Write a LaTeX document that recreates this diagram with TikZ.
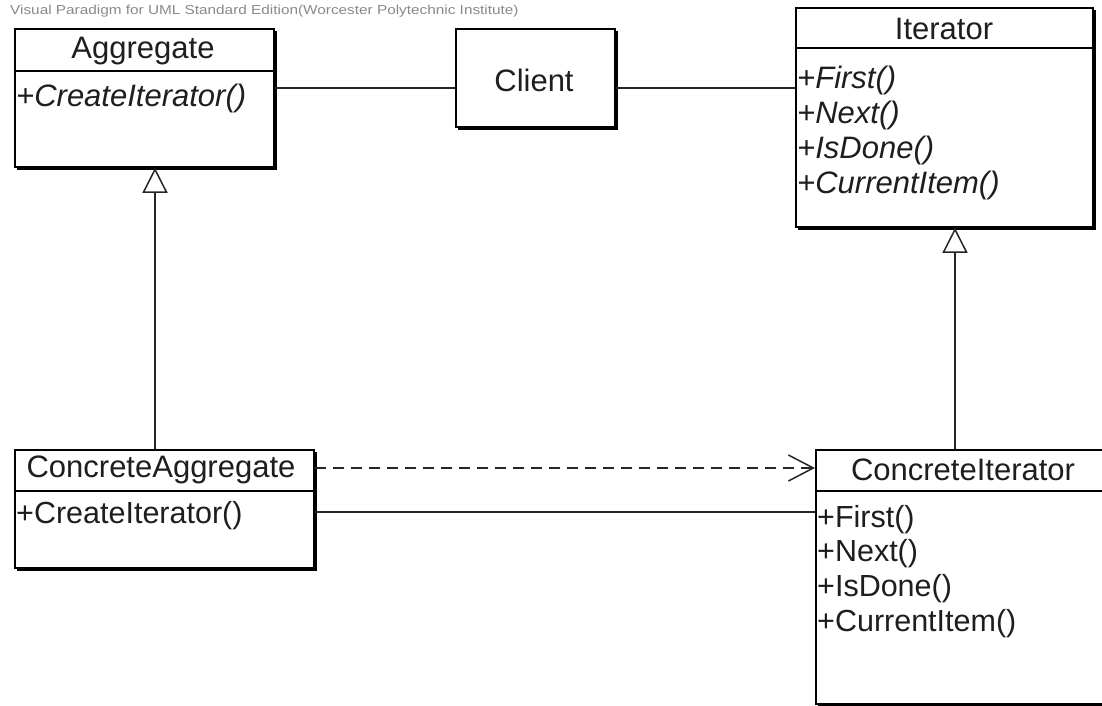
\documentclass[tikz,border=0pt]{standalone}
\usepackage{fontspec}
\setmainfont{Liberation Sans}
\usetikzlibrary{arrows.meta,calc}
\definecolor{txt}{HTML}{1E1E1E}
\definecolor{wm}{HTML}{8A8A8A}
\begin{document}
\begin{tikzpicture}[x=1pt,y=-1pt,
  box/.style={draw=black,line width=1.8pt,fill=white,inner sep=0pt,anchor=north west},
  shadowline/.style={draw=black,line width=2.4pt},
  title/.style={text=txt,inner sep=0pt,font=\fontsize{31}{35}\selectfont},
  meth/.style={text=txt,inner sep=0pt,anchor=west,font=\fontsize{30.5}{35}\selectfont},
  imeth/.style={meth,font=\fontsize{31}{35}\selectfont\itshape},
  conn/.style={draw=black!85,line width=1.5pt},
  gen/.style={conn,-{Triangle[open,length=25pt,width=25pt,line width=1.5pt]}},
  dep/.style={conn,dash pattern=on 11pt off 7pt,-{Straight Barb[length=25pt,width=26pt,line width=1.5pt]}},
  divider/.style={draw=black,line width=1.6pt}
]
\useasboundingbox (0,0) rectangle (1102,705);
\fill[white] (0,0) rectangle (1102,705);
\clip (0,0) rectangle (1102,705);

% watermark
\node[anchor=west,inner sep=0pt,text=wm,font=\fontsize{13}{14}\selectfont] (wm) at (10,11) {\scalebox{1.18}[1]{Visual Paradigm for UML Standard Edition(Worcester Polytechnic Institute)}};

% boxes
\node[box,minimum width=259pt,minimum height=138pt] (agg) at (14,28) {};
\node[box,minimum width=159pt,minimum height=98pt] (client) at (455,28) {};
\node[box,minimum width=297pt,minimum height=219pt] (iter) at (795,7) {};
\node[box,minimum width=299pt,minimum height=118pt] (cagg) at (14,449) {};
\node[box,minimum width=320pt,minimum height=254pt] (citer) at (815,449) {};

% shadows (thick right and bottom edges)
\foreach \b in {agg,client,iter,cagg,citer}{
  \draw[shadowline] ($(\b.north east)+(1.2,3)$) -- ($(\b.south east)+(1.2,1.2)$) -- ($(\b.south west)+(3,1.2)$);
}

% dividers
\draw[divider] (14,71) -- (273,71);
\draw[divider] (795,48) -- (1092,48);
\draw[divider] (14,491) -- (313,491);
\draw[divider] (815,491) -- (1135,491);

% texts
\node[title] (aggT) at (143,51) {Aggregate};
\node[imeth] (aggM) at (16,98) {+CreateIterator()};

\node[title] (clientT) at (534,80) {Client};

\node[title] (iterT) at (944,29) {Iterator};
\node[imeth] (iterM1) at (797,80) {+First()};
\node[imeth] (iterM2) at (797,115) {+Next()};
\node[imeth] (iterM3) at (797,150) {+IsDone()};
\node[imeth] (iterM4) at (797,185) {+CurrentItem()};

\node[title] (caggT) at (161,470) {ConcreteAggregate};
\node[meth] (caggM) at (16,516) {+CreateIterator()};

\node[title] (citerT) at (963,470) {ConcreteIterator};
\node[meth] (citerM1) at (817,520) {+First()};
\node[meth] (citerM2) at (817,554) {+Next()};
\node[meth] (citerM3) at (817,589) {+IsDone()};
\node[meth] (citerM4) at (817,624) {+CurrentItem()};

% connector guide coordinates
\coordinate (yTop) at (0,88);
\coordinate (xG1) at (155,0);
\coordinate (xG2) at (955,0);
\coordinate (yDep) at (0,468);
\coordinate (yAssoc) at (0,512);

% connectors
\draw[conn] (agg.east |- yTop) -- (client.west |- yTop);
\draw[conn] (client.east |- yTop) -- (iter.west |- yTop);
\draw[gen] (cagg.north -| xG1) -- (agg.south -| xG1);
\draw[gen] (citer.north -| xG2) -- (iter.south -| xG2);
\draw[dep] (cagg.east |- yDep) -- (citer.west |- yDep);
\draw[conn] (cagg.east |- yAssoc) -- (citer.west |- yAssoc);
\end{tikzpicture}
\end{document}
